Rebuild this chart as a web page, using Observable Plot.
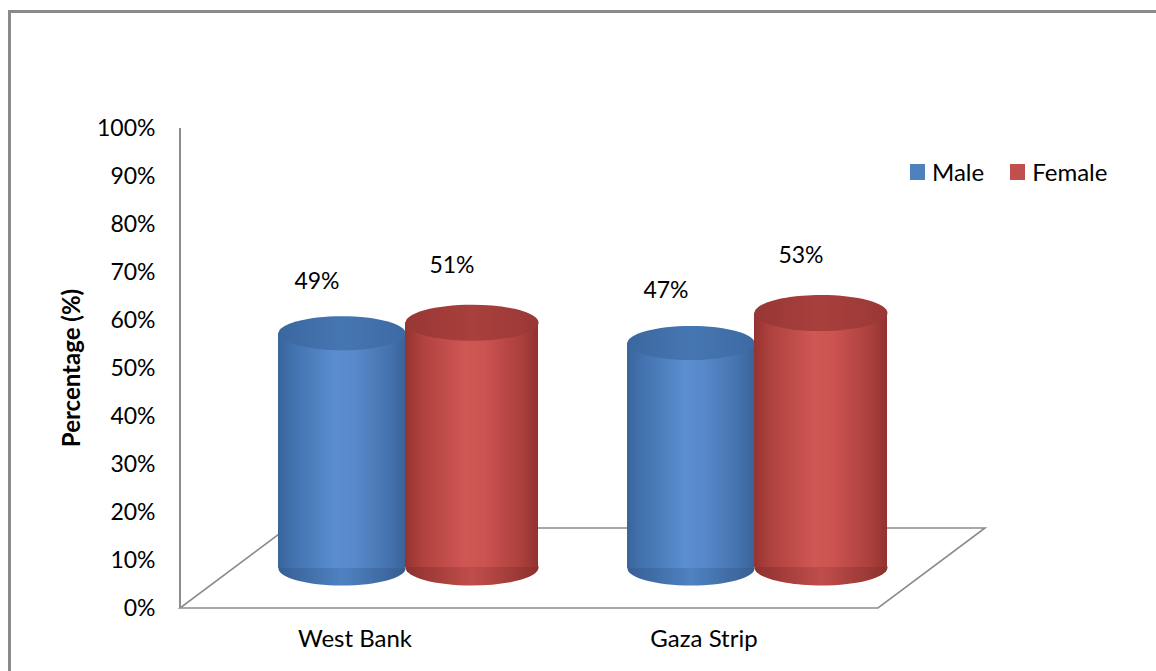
<!DOCTYPE html>
<html>
<head>
<meta charset="utf-8">
<script src="https://cdn.jsdelivr.net/npm/d3@7"></script>
<script src="https://cdn.jsdelivr.net/npm/@observablehq/plot@0.6"></script>
<style>
  html, body { margin: 0; padding: 0; background: #fff; overflow: hidden; }
  #wrap { position: relative; width: 1156px; height: 671px; font-family: Lato, "Open Sans", sans-serif; }
  #border { position: absolute; left: 8px; top: 10px; width: 2000px; height: 2000px;
            border-left: 3px solid #8a8a8a; border-top: 3px solid #8a8a8a; }
  #legend { position: absolute; left: 910px; top: 157px; display: flex; align-items: center;
            font-size: 24px; color: #000; white-space: nowrap; }
  #legend .sw { display: inline-block; width: 15px; height: 16px; margin-right: 7px; }
  #legend .item { display: flex; align-items: center; margin-right: 26px; }
  #chart { position: absolute; left: 0; top: 0; }
</style>
</head>
<body>
<div id="wrap">
  <div id="border"></div>
  <div id="chart"></div>
  <div id="legend"></div>
</div>
<script>
// ---- data ----
const regions = ["West Bank", "Gaza Strip"];
const seriesNames = ["Male", "Female"];
const maleValues = [0.49, 0.47];
const femaleValues = [0.51, 0.53];
const seriesColors = ["#4F81BD", "#C0504D"];
const yTicks = [0, 0.1, 0.2, 0.3, 0.4, 0.5, 0.6, 0.7, 0.8, 0.9, 1.0];

const rows = [];
regions.forEach((r, i) => {
  rows.push({region: r, series: "Male", value: maleValues[i]});
  rows.push({region: r, series: "Female", value: femaleValues[i]});
});
const maleRows = rows.filter(d => d.series === "Male");
const femaleRows = rows.filter(d => d.series === "Female");

// ellipse symbol (cylinder caps)
function ellipseSymbol(a, b) {
  const k = 0.5523;
  return {
    draw(ctx) {
      ctx.moveTo(a, 0);
      ctx.bezierCurveTo(a, b * k, a * k, b, 0, b);
      ctx.bezierCurveTo(-a * k, b, -a, b * k, -a, 0);
      ctx.bezierCurveTo(-a, -b * k, -a * k, -b, 0, -b);
      ctx.bezierCurveTo(a * k, -b, a, -b * k, a, 0);
      ctx.closePath();
    }
  };
}

const BAND = 349;
const cyl = {
  Male:   {w: 127, b: 17, dx: -13, dy: -40, body: "url(#blueBody)", top: "url(#blueTop)", bottom: "url(#blueBottom)"},
  Female: {w: 133, b: 18, dx: 117, dy: -41, body: "url(#redBody)", top: "url(#redTop)", bottom: "url(#redBottom)"}
};

function cylinderMarks(data, s) {
  const c = cyl[s];
  const inset = (BAND - c.w) / 2;
  return [
    Plot.dot(data, {x: "region", y: () => 0, dx: c.dx, dy: c.dy, symbol: ellipseSymbol(c.w / 2, c.b), r: 5, fill: c.bottom, stroke: "none"}),
    Plot.barY(data, {x: "region", y: "value", dx: c.dx, dy: c.dy, insetLeft: inset, insetRight: inset, fill: c.body, stroke: "none"}),
    Plot.dot(data, {x: "region", y: "value", dx: c.dx, dy: c.dy, symbol: ellipseSymbol(c.w / 2, c.b), r: 5, fill: c.top, stroke: "none"})
  ];
}

const plot = Plot.plot({
  width: 1156,
  height: 671,
  marginLeft: 180,
  marginRight: 278,
  marginTop: 128,
  marginBottom: 63,
  style: {fontFamily: "Lato, 'Open Sans', sans-serif", fontSize: "23px", color: "#000", background: "transparent", overflow: "visible"},
  x: {domain: regions, padding: 0, tickSize: 0, tickPadding: 21, label: null},
  y: {domain: [0, 1], ticks: yTicks, tickFormat: d3.format(".0%"), tickSize: 0, tickPadding: 25, label: null},
  marks: [
    ...cylinderMarks(maleRows, "Male"),
    ...cylinderMarks(femaleRows, "Female"),
    Plot.text(maleRows, {x: "region", y: "value", text: d => d3.format(".0%")(d.value), dx: -38, dy: -92, fill: "#000"}),
    Plot.text(femaleRows, {x: "region", y: "value", text: d => d3.format(".0%")(d.value), dx: 97, dy: -98, fill: "#000"})
  ]
});

// larger category labels
d3.select(plot).selectAll("g[aria-label='x-axis tick label'] text, g[aria-label='x-axis'] text").attr("font-size", 24);

// gradients
const svg = d3.select(plot);
const defs = svg.insert("defs", ":first-child");
function grad(id, stops) {
  const g = defs.append("linearGradient").attr("id", id).attr("x1", "0").attr("x2", "1").attr("y1", "0").attr("y2", "0");
  stops.forEach(([o, c]) => g.append("stop").attr("offset", o).attr("stop-color", c));
}
grad("blueBody", [[0, "#3a659c"], [0.12, "#4272ae"], [0.45, "#5a8ed0"], [0.6, "#5889ca"], [0.88, "#4472ad"], [1, "#3a6399"]]);
grad("blueTop", [[0, "#3b679f"], [0.5, "#4676b2"], [1, "#3d6aa3"]]);
grad("blueBottom", [[0, "#375f94"], [0.5, "#4f82c2"], [1, "#375e92"]]);
grad("redBody", [[0, "#953330"], [0.12, "#ae413e"], [0.45, "#cf5754"], [0.6, "#cb5350"], [0.88, "#aa3f3c"], [1, "#923230"]]);
grad("redTop", [[0, "#983735"], [0.5, "#a8403d"], [1, "#9a3836"]]);
grad("redBottom", [[0, "#8e302e"], [0.5, "#c04e4b"], [1, "#8c302d"]]);

// floor & axis line, positioned with the plot's own scales
const xs = plot.scale("x"), ys = plot.scale("y");
const x0 = xs.range[0], x1 = xs.range[1];
const y0 = ys.apply(0), yTop = ys.apply(1);
const depthX = 107, depthY = -80;
const floor = svg.insert("g", "defs").attr("fill", "none").attr("stroke", "#8c8c8c").attr("stroke-width", 1.6);
floor.append("path").attr("d", `M${x0},${y0}L${x1},${y0}L${x1 + depthX},${y0 + depthY}L${x0 + depthX},${y0 + depthY}Z`);
floor.append("line").attr("x1", x0).attr("x2", x0).attr("y1", yTop).attr("y2", y0).attr("stroke-width", 2);

// y label
svg.append("text")
  .attr("transform", `translate(80,${(y0 + yTop) / 2}) rotate(-90)`)
  .attr("text-anchor", "middle")
  .attr("font-weight", "bold")
  .attr("font-size", 24)
  .attr("fill", "#000")
  .text("Percentage (%)");

document.getElementById("chart").appendChild(plot);

// legend
const legend = document.getElementById("legend");
seriesNames.forEach((s, i) => {
  const item = document.createElement("span");
  item.className = "item";
  const sw = document.createElement("span");
  sw.className = "sw";
  sw.style.background = seriesColors[i];
  item.appendChild(sw);
  item.appendChild(document.createTextNode(s));
  legend.appendChild(item);
});
</script>
</body>
</html>
